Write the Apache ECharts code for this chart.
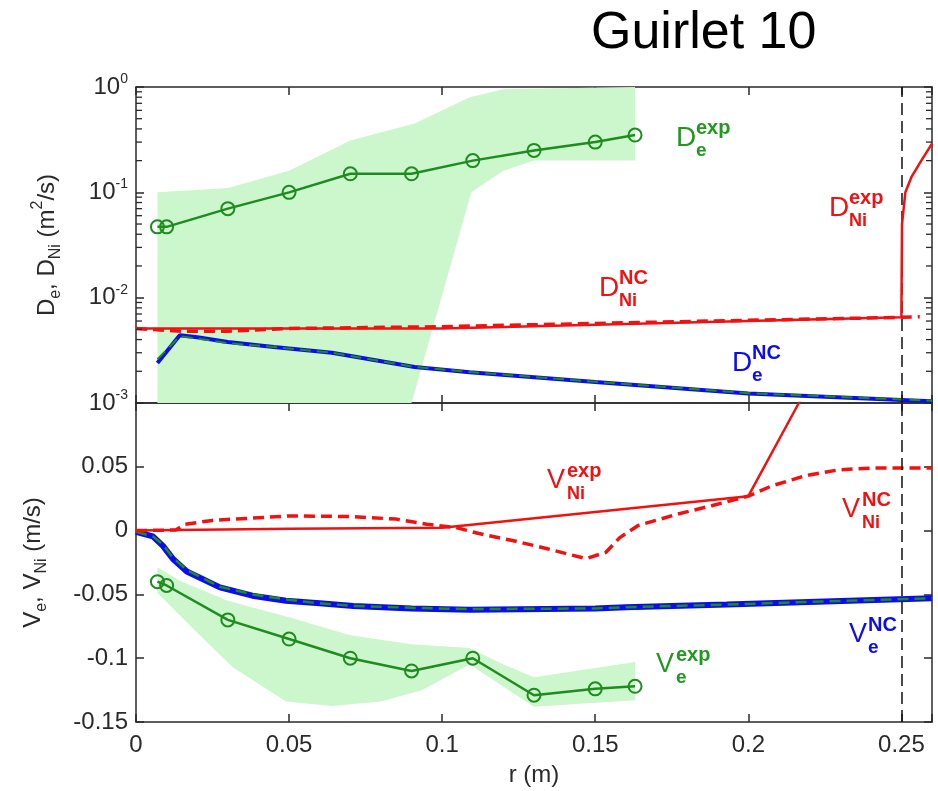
<!DOCTYPE html>
<html><head><meta charset="utf-8">
<script src="https://cdn.jsdelivr.net/npm/echarts@6/dist/echarts.min.js"></script>
<style>html,body{margin:0;padding:0;background:#fff}#c{width:938px;height:791px}</style>
</head><body><div id="c"></div>
<script>
// ---------- data ----------
const rExp  = [0.007, 0.010, 0.030, 0.050, 0.070, 0.090, 0.110, 0.130, 0.150, 0.163];
const DeExp = [0.047, 0.047, 0.070, 0.100, 0.150, 0.150, 0.200, 0.250, 0.300, 0.350];
const VeExp = [-0.040, -0.043, -0.070, -0.085, -0.100, -0.110, -0.100, -0.129, -0.124, -0.122];

// D_e^exp uncertainty band
const DeBandHiR = [0.007, 0.030, 0.050, 0.070, 0.091, 0.109, 0.120, 0.163];
const DeBandHi  = [0.100, 0.110, 0.160, 0.310, 0.450, 0.800, 0.950, 1.000];
const DeBandLoR = [0.007, 0.090, 0.1095, 0.120, 0.130, 0.163];
const DeBandLo  = [0.001, 0.001, 0.100, 0.160, 0.200, 0.200];

// V_e^exp uncertainty band
const VeBandHiR = [0.007, 0.015, 0.030, 0.050, 0.070, 0.090, 0.109, 0.120, 0.130, 0.163];
const VeBandHi  = [-0.029, -0.040, -0.055, -0.068, -0.082, -0.089, -0.092, -0.105, -0.115, -0.103];
const VeBandLoR = [0.007, 0.020, 0.0316, 0.049, 0.064, 0.080, 0.0935, 0.109, 0.130, 0.163];
const VeBandLo  = [-0.049, -0.080, -0.107, -0.134, -0.1375, -0.134, -0.125, -0.105, -0.138, -0.133];

// D_Ni^exp (solid red)
const DNiExpR = [0, 0.100, 0.250, 0.2502, 0.2513, 0.2533, 0.2565, 0.260];
const DNiExp  = [0.0051, 0.0051, 0.0065, 0.050, 0.100, 0.140, 0.200, 0.290];
// D_Ni^NC (dashed red)
const DNiNcR = [0, 0.015, 0.030, 0.050, 0.100, 0.150, 0.200, 0.250, 0.256];
const DNiNc  = [0.0051, 0.0048, 0.0048, 0.0051, 0.0053, 0.0057, 0.0061, 0.0065, 0.0066];
// D_e^NC (blue, and green dashed companion)
const DeNcR = [0.007, 0.0143, 0.020, 0.030, 0.045, 0.064, 0.091, 0.109, 0.150, 0.200, 0.250, 0.260];
const DeNc  = [0.0024, 0.0044, 0.0042, 0.0038, 0.0034, 0.0030, 0.0022, 0.00196, 0.00158, 0.00123, 0.00107, 0.00104];
const DeNc2 = [0.0026, 0.0043, 0.0041, 0.0037, 0.0034, 0.0030, 0.0022, 0.00197, 0.00159, 0.00124, 0.00108, 0.00105];

// V_Ni^exp (solid red)
const VNiExpR = [0, 0.050, 0.100, 0.200, 0.2165, 0.230];
const VNiExp  = [0, 0.0015, 0.0022, 0.027, 0.100, 0.160];
// V_Ni^NC (dashed red)
const VNiNcR = [0, 0.013, 0.016, 0.025, 0.050, 0.070, 0.085, 0.095, 0.1046, 0.112, 0.123, 0.134, 0.147, 0.1535, 0.158, 0.164, 0.177, 0.188, 0.200, 0.2076, 0.2186, 0.2295, 0.240, 0.260];
const VNiNc  = [0, 0.0005, 0.005, 0.008, 0.0115, 0.011, 0.009, 0.005, 0.0023, -0.0023, -0.0078, -0.014, -0.022, -0.017, -0.0055, 0.004, 0.013, 0.0195, 0.027, 0.035, 0.043, 0.0476, 0.049, 0.049];
// V_e^NC (blue, and green dashed companion)
const VeNcR = [0, 0.0055, 0.0088, 0.012, 0.0166, 0.0274, 0.038, 0.049, 0.060, 0.071, 0.090, 0.109, 0.150, 0.160, 0.193, 0.225, 0.260];
const VeNc  = [-0.001, -0.0045, -0.012, -0.022, -0.032, -0.0445, -0.051, -0.055, -0.057, -0.059, -0.061, -0.062, -0.061, -0.060, -0.058, -0.0555, -0.053];
const VeNc2 = [-0.001, -0.0045, -0.011, -0.021, -0.031, -0.044, -0.050, -0.054, -0.057, -0.059, -0.0605, -0.0615, -0.061, -0.060, -0.058, -0.0555, -0.053];

const rSeparatrix = 0.25;
const logMinorTicks = [0.002,0.003,0.004,0.005,0.006,0.007,0.008,0.009,
                       0.02,0.03,0.04,0.05,0.06,0.07,0.08,0.09,
                       0.2,0.3,0.4,0.5,0.6,0.7,0.8,0.9];

// ---------- styling ----------
const FONT = '"Liberation Sans", Arial, sans-serif';
const AX = '#2a2a2a';
const GREEN = '#1e8c1e', GREEN_LAB = '#1f9a1f', BAND = '#ccf6cc';
const RED = '#f21010', BLUE = '#0c0cf0';
const RMAX = 0.26;

function pts(xs, ys) { return xs.map((x, i) => [x, ys[i]]); }

const chart = echarts.init(document.getElementById('c'), null, { renderer: 'canvas' });

const axisLine = { show: true, onZero: false, lineStyle: { color: AX, width: 1.5 } };
const axisTick = { show: true, inside: true, length: 8, lineStyle: { color: AX, width: 1.5 } };

function xAx(grid, pos, labels) {
  return {
    type: 'value', gridIndex: grid, position: pos, min: 0, max: RMAX, interval: 0.05,
    axisLine, axisTick, splitLine: { show: false },
    axisLabel: labels ? {
      show: true, margin: 11, fontSize: 24, fontFamily: FONT, color: AX,
      formatter: v => (Math.abs(v * 20 - Math.round(v * 20)) < 1e-6 ? String(parseFloat(v.toFixed(2))) : '')
    } : { show: false },
    name: labels ? 'r (m)' : '', nameLocation: 'middle', nameGap: 41,
    nameTextStyle: { fontSize: 24, fontFamily: FONT, color: AX }
  };
}
function yLog(pos, labels) {
  return {
    type: 'log', logBase: 10, gridIndex: 0, position: pos, min: 0.001, max: 1,
    axisLine, axisTick, splitLine: { show: false }, minorTick: { show: false },
    axisLabel: labels ? {
      show: true, margin: 8, color: AX,
      formatter: v => '{b|10}{s|' + Math.round(Math.log10(v)) + '}',
      rich: {
        b: { fontSize: 24, fontFamily: FONT, color: AX, lineHeight: 30 },
        s: { fontSize: 14, fontFamily: FONT, color: AX, lineHeight: 14, verticalAlign: 'top' }
      }
    } : { show: false },
    name: labels ? '{a|D}{sb|e}{a|, D}{sb|Ni}{a| (m}{sp|2}{a|/s)}' : '',
    nameLocation: 'middle', nameGap: 72, nameRotate: 90,
    nameTextStyle: {
      rich: {
        a: { fontSize: 24, fontFamily: FONT, color: AX, lineHeight: 34 },
        sb: { fontSize: 16, fontFamily: FONT, color: AX, lineHeight: 14, verticalAlign: 'bottom' },
        sp: { fontSize: 16, fontFamily: FONT, color: AX, lineHeight: 16, verticalAlign: 'top' }
      }
    }
  };
}
function yLin(pos, labels) {
  return {
    type: 'value', gridIndex: 1, position: pos, min: -0.15, max: 0.1, interval: 0.05,
    axisLine, axisTick, splitLine: { show: false },
    axisLabel: labels ? {
      show: true, margin: 8, fontSize: 24, fontFamily: FONT, color: AX,
      formatter: v => (v > 0.09 ? '' : String(parseFloat(v.toFixed(2))))
    } : { show: false },
    name: labels ? '{a|V}{sb|e}{a|, V}{sb|Ni}{a| (m/s)}' : '',
    nameLocation: 'middle', nameGap: 86, nameRotate: 90,
    nameTextStyle: {
      rich: {
        a: { fontSize: 24, fontFamily: FONT, color: AX, lineHeight: 34 },
        sb: { fontSize: 16, fontFamily: FONT, color: AX, lineHeight: 14, verticalAlign: 'bottom' }
      }
    }
  };
}

function band(xi, yi, rHi, hi, rLo, lo) {
  return {
    type: 'custom', xAxisIndex: xi, yAxisIndex: yi, silent: true, z: 1,
    data: [[rHi[0], hi[0]]],
    renderItem(params, api) {
      const p = [];
      rHi.forEach((r, i) => p.push(api.coord([r, hi[i]])));
      for (let i = rLo.length - 1; i >= 0; i--) p.push(api.coord([rLo[i], lo[i]]));
      return { type: 'polygon', shape: { points: p }, style: { fill: BAND } };
    }
  };
}
function line(xi, yi, xs, ys, color, width, dashed, z, extra) {
  return Object.assign({
    type: 'line', xAxisIndex: xi, yAxisIndex: yi, data: pts(xs, ys), symbol: 'none',
    lineStyle: { color, width, type: dashed ? [11, 6] : 'solid' }, z: z || 3, silent: true
  }, extra || {});
}
function expLine(xi, yi, xs, ys) {
  return {
    type: 'line', xAxisIndex: xi, yAxisIndex: yi, data: pts(xs, ys), symbol: 'circle', symbolSize: 13,
    itemStyle: { color: 'rgba(0,0,0,0)', borderColor: GREEN, borderWidth: 2 },
    lineStyle: { color: GREEN, width: 2.5 }, z: 6, silent: true
  };
}
const sepLine = {
  markLine: {
    silent: true, symbol: ['none', 'none'], label: { show: false },
    lineStyle: { color: '#111', width: 1.5, type: [12, 6] },
    data: [{ xAxis: rSeparatrix }]
  }
};

// minor log ticks, drawn through the log axis scale
const minorTicks = {
  type: 'custom', xAxisIndex: 0, yAxisIndex: 0, silent: true, z: 20,
  data: [[0, logMinorTicks[0]]],
  renderItem(params, api) {
    const children = [];
    logMinorTicks.forEach(v => {
      const a = api.coord([0, v]), b = api.coord([RMAX, v]);
      children.push({ type: 'line', shape: { x1: a[0], y1: a[1], x2: a[0] + 6, y2: a[1] }, style: { stroke: AX, lineWidth: 1.3 } });
      children.push({ type: 'line', shape: { x1: b[0], y1: b[1], x2: b[0] - 6, y2: b[1] }, style: { stroke: AX, lineWidth: 1.3 } });
    });
    return { type: 'group', children };
  }
};

function lab(x, y, main, sup, sub, color, mainSize, dx) {
  const base = { fill: color, align: 'left', verticalAlign: 'middle' };
  return [
    { type: 'text', x, y, silent: true, style: Object.assign({ text: main, font: mainSize + 'px ' + FONT }, base) },
    { type: 'text', x: x + dx, y: y - 10, silent: true, style: Object.assign({ text: sup, font: 'bold ' + (sup === 'exp' ? 20 : 20) + 'px ' + FONT }, base) },
    { type: 'text', x: x + dx, y: y + 13, silent: true, style: Object.assign({ text: sub, font: 'bold ' + (sub === 'e' ? 19 : 18) + 'px ' + FONT }, base) }
  ];
}

const graphics = [].concat(
  [{ type: 'text', x: 591, y: 34, silent: true, style: { text: 'Guirlet 10', font: '52px ' + FONT, fill: '#000', align: 'left', verticalAlign: 'middle' } }],
  lab(676, 138, 'D', 'exp', 'e', GREEN_LAB, 28, 20),
  lab(829, 208, 'D', 'exp', 'Ni', RED, 28, 20),
  lab(599, 288, 'D', 'NC', 'Ni', RED, 28, 20),
  lab(732, 363, 'D', 'NC', 'e', BLUE, 28, 20),
  lab(547, 481, 'V', 'exp', 'Ni', RED, 27, 20),
  lab(842, 510, 'V', 'NC', 'Ni', RED, 27, 20),
  lab(849, 635, 'V', 'NC', 'e', BLUE, 27, 19),
  lab(656, 665, 'V', 'exp', 'e', GREEN_LAB, 27, 20)
);

const option = {
  animation: false,
  backgroundColor: '#fff',
  grid: [
    { left: 136, top: 87, width: 796, height: 316, outerBoundsMode: 'none', containLabel: false },
    { left: 136, top: 403, width: 796, height: 319, outerBoundsMode: 'none', containLabel: false }
  ],
  xAxis: [xAx(0, 'bottom', false), xAx(0, 'top', false), xAx(1, 'bottom', true), xAx(1, 'top', false)],
  yAxis: [yLog('left', true), yLog('right', false), yLin('left', true), yLin('right', false)],
  series: [
    band(0, 0, DeBandHiR, DeBandHi, DeBandLoR, DeBandLo),
    minorTicks,
    line(0, 0, DeNcR, DeNc, BLUE, 4, false, 3, sepLine),
    line(0, 0, DeNcR, DeNc2, GREEN, 2, true, 4),
    line(0, 0, DNiNcR, DNiNc, RED, 3.5, true, 4),
    line(0, 0, DNiExpR, DNiExp, RED, 2.5, false, 5),
    expLine(0, 0, rExp, DeExp),

    band(2, 2, VeBandHiR, VeBandHi, VeBandLoR, VeBandLo),
    line(2, 2, VeNcR, VeNc, BLUE, 6, false, 3, sepLine),
    line(2, 2, VeNcR, VeNc2, GREEN, 2.5, true, 4),
    line(2, 2, VNiNcR, VNiNc, RED, 3.5, true, 4),
    line(2, 2, VNiExpR, VNiExp, RED, 2.5, false, 5),
    expLine(2, 2, rExp, VeExp)
  ],
  graphic: { elements: graphics }
};
chart.setOption(option);
</script></body></html>
